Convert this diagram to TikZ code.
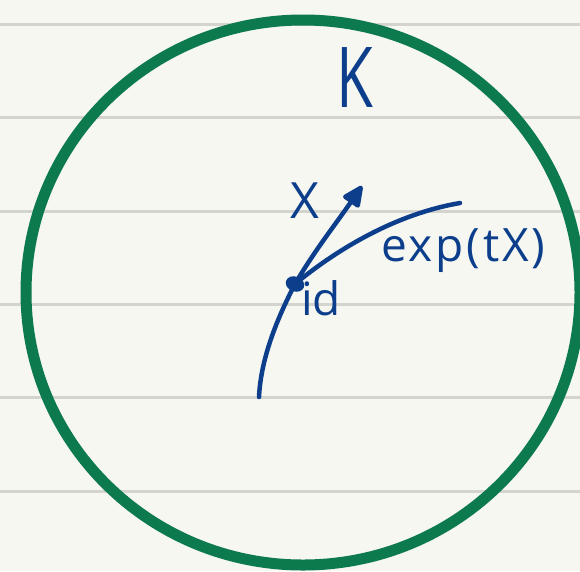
\documentclass[tikz,border=0pt]{standalone}
\usepackage{fontspec}
\setmainfont{Open Sans}
\usetikzlibrary{arrows.meta,shapes.geometric}
\definecolor{paper}{RGB}{246,247,241}
\definecolor{rule}{RGB}{212,212,206}
\definecolor{ink}{RGB}{12,62,140}
\definecolor{ring}{RGB}{12,122,76}
\tikzset{
  ruleline/.style={draw=rule, line width=3pt},
  ringline/.style={draw=ring, line width=11pt},
  inkline/.style={draw=ink, line width=4.5pt, line cap=round, line join=round},
  lbl/.style={text=ink, inner sep=0pt, font=\fontsize{46}{46}\selectfont},
}
\begin{document}
\begin{tikzpicture}[x=1pt,y=-1pt]
\useasboundingbox (0,0) rectangle (580,571);
\fill[paper] (0,0) rectangle (580,571);
\clip (0,0) rectangle (580,571);
\foreach \yy in {24,117,211,304,397,491}
  \draw[ruleline] (0,\yy) -- (580,\yy);
\draw[ringline] (303,292.5) ellipse [x radius=277, y radius=272.5];
% curve exp(tX)
\coordinate (cstart) at (259,397);
\coordinate (cend) at (460,203);
\coordinate (tip) at (362,186);
\node[ellipse, fill=ink, minimum width=19pt, minimum height=15pt, inner sep=0pt, rotate=-20] (idpt) at (295,284) {};
\draw[inkline] (cstart) .. controls (261,355) and (280,313) .. (idpt.center)
  .. controls (330,255) and (390,215) .. (cend);
\draw[inkline, -{Triangle[length=24pt,width=21pt,round]}] (idpt.center) .. controls (315,250) and (335,225) .. (tip);
% labels
\node[lbl, anchor=base] (K) at (355,107) {\scalebox{1}[1.4]{\fontsize{60}{60}\selectfont K}};
\node[lbl, anchor=base] (X) at (305,218) {\fontsize{50}{50}\selectfont X};
\node[lbl, anchor=base west] (exp) at (381,261) {\addfontfeature{LetterSpace=6}exp(tX)};
\node[lbl, anchor=base west] (id) at (301,315) {id};
\end{tikzpicture}
\end{document}
